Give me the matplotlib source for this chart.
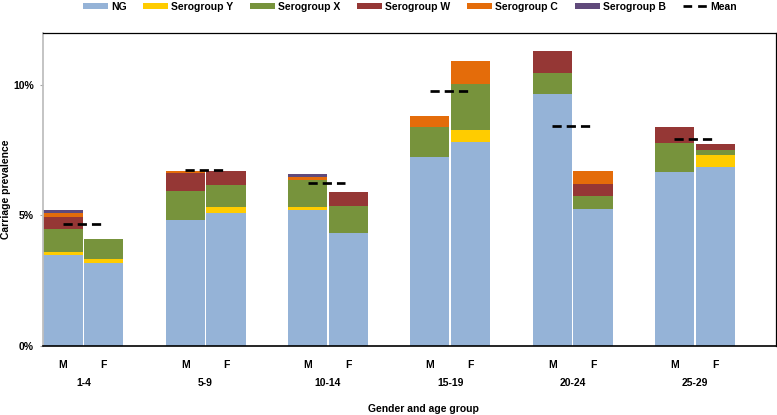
import matplotlib
matplotlib.use("Agg")
import matplotlib.pyplot as plt
from matplotlib.lines import Line2D
from matplotlib.patches import Patch
import numpy as np

plt.rcParams["font.family"] = ["Liberation Sans", "DejaVu Sans"]
plt.rcParams["font.weight"] = "bold"

age_groups = ["1-4", "5-9", "10-14", "15-19", "20-24", "25-29"]
genders = ["M", "F"]

# carriage prevalence (%) per bar: M, F for each age group
ng = [3.49, 3.17, 4.83, 5.08, 5.21, 4.34, 7.25, 7.82, 9.66, 5.26, 6.67, 6.87]
sero_y = [0.12, 0.15, 0.00, 0.26, 0.13, 0.00, 0.00, 0.46, 0.00, 0.00, 0.00, 0.43]
sero_x = [0.86, 0.78, 1.11, 0.83, 1.02, 1.02, 1.12, 1.75, 0.80, 0.49, 1.12, 0.21]
sero_w = [0.48, 0.00, 0.70, 0.55, 0.00, 0.53, 0.00, 0.00, 0.82, 0.46, 0.58, 0.24]
sero_c = [0.13, 0.00, 0.08, 0.00, 0.10, 0.00, 0.44, 0.89, 0.00, 0.51, 0.00, 0.00]
sero_b = [0.13, 0.00, 0.00, 0.00, 0.12, 0.00, 0.00, 0.00, 0.00, 0.00, 0.00, 0.00]
mean_prev = [4.69, 6.73, 6.26, 9.78, 8.42, 7.93]

series = [
    ("NG", ng, "#95B3D7"),
    ("Serogroup Y", sero_y, "#FFCC00"),
    ("Serogroup X", sero_x, "#77933C"),
    ("Serogroup W", sero_w, "#953735"),
    ("Serogroup C", sero_c, "#E46C0A"),
    ("Serogroup B", sero_b, "#604A7B"),
]

fig = plt.figure(figsize=(7.77, 4.15), dpi=100)
ax = fig.add_axes([0.0553, 0.1663, 0.9434, 0.7549])

x = []
for g in range(len(age_groups)):
    x += [3 * g, 3 * g + 1]
x = np.array(x, dtype=float)

bottom = np.zeros(len(x))
for name, vals, color in series:
    vals = np.array(vals)
    ax.bar(x, vals, width=0.96, bottom=bottom, color=color, linewidth=0)
    bottom += vals

for g, m in enumerate(mean_prev):
    ax.plot([3 * g, 3 * g + 0.93], [m, m], color="black", lw=1.95,
            linestyle=(0, (3.4, 1.85)), solid_capstyle="butt", dash_capstyle="butt")

ax.set_xlim(-0.49, 17.49)
ax.set_ylim(0, 12)
ax.set_yticks([0, 5, 10])
ax.set_yticklabels(["0%", "5%", "10%"], fontsize=7.5, fontweight="bold")
ax.tick_params(axis="y", length=2.5, color="#A6A6A6", pad=4)
ax.set_xticks(x)
ax.set_xticklabels(genders * len(age_groups), fontsize=7.5, fontweight="bold")
ax.tick_params(axis="x", length=0, pad=10)

ax.spines["left"].set_color("#BFBFBF")
ax.spines["left"].set_linewidth(1.3)
ax.spines["bottom"].set_linewidth(1.2)
ax.spines["top"].set_linewidth(0.9)
ax.spines["right"].set_linewidth(0.9)

ax.set_ylabel("Carriage prevalence", fontsize=7.5, fontweight="bold")
ax.yaxis.set_label_coords(-0.0435, 0.5)

for g, label in enumerate(age_groups):
    ax.text(3 * g + 0.5, -37.3 / 26.1, label, ha="center", va="center",
            fontsize=7.5, fontweight="bold", clip_on=False)

fig.text(423 / 777, 1 - 409 / 415, "Gender and age group", ha="center", va="center",
         fontsize=7.5, fontweight="bold")

handles = [Patch(facecolor=c, label=n) for n, _, c in series]
handles.append(Line2D([0], [0], color="black", lw=1.95, linestyle=(0, (3.2, 2.2)), label="Mean"))
fig.legend(handles=handles, loc="center", bbox_to_anchor=(410 / 777, 1 - 6.5 / 415),
           ncol=7, frameon=False, fontsize=7.5, handlelength=2.4, handleheight=0.5,
           handletextpad=0.3, columnspacing=1.6, borderpad=0)

fig.savefig("out.png", dpi=100)
